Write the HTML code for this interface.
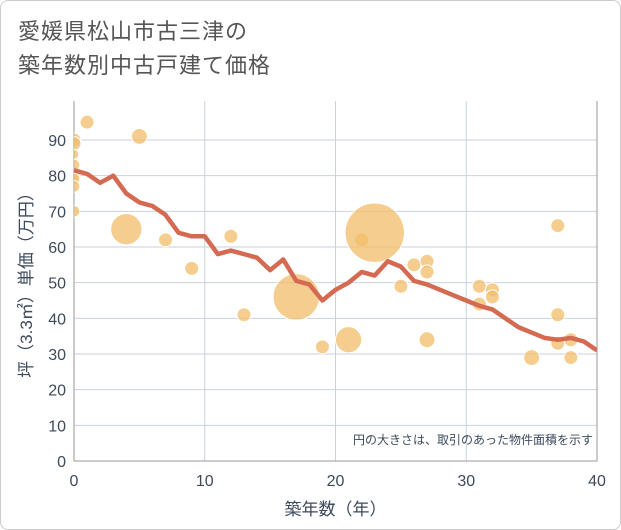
<!DOCTYPE html>
<html><head><meta charset="utf-8"><style>
body{margin:0;background:#fff;}
#wrap{width:619px;height:528px;border:1px solid #ccc;border-radius:8px;position:relative;overflow:hidden;background:#fff}
.title{position:absolute;left:17px;top:14px;font:22px "Liberation Sans","Noto Sans CJK JP",sans-serif;color:#555;line-height:34px;letter-spacing:1px}
svg{position:absolute;left:0;top:0}
text{font-family:"Liberation Sans","Noto Sans CJK JP",sans-serif}
</style></head><body>
<div id="wrap">
<div class="title">愛媛県松山市古三津の<br>築年数別中古戸建て価格</div>
<svg id="c" width="621" height="530"><defs><clipPath id="pc"><rect x="73" y="100" width="523" height="360"/></clipPath></defs></svg>
</div>
<script>
const lineYears=[0,1,2,3,4,5,6,7,8,9,10,11,12,13,14,15,16,17,18,19,20,21,22,23,24,25,26,27,28,29,30,31,32,33,34,35,36,37,38,39,40];
const lineValues=[81.5,80.5,78,80,75,72.5,71.5,69,64,63,63,58,59,58,57,53.5,56.5,50.5,49.5,45,48,50,53,52,56,54.5,50.5,49.5,48,46.5,45,43.5,42.5,40,37.5,36,34.5,34,34.5,33.5,31];
const bubbleX=[0,0,0,0,0,0,0,0,1,5,4,7,9,12,13,17,19,21,22,23,25,26,27,27,27,31,31,32,32,35,37,37,37,38,38];
const bubbleY=[90,89,86,83,80,79,77,70,95,91,65,62,54,63,41,46,32,34,62,64,49,55,56,53,34,49,44,48,46,29,66,41,33,34,29];
const bubbleSize=[1,1,0.5,0.7,0.7,0.7,0.7,0.7,1,1.3,5,1,1,1,1,11,1,3.5,1,18,1,1,1,1,1.3,1,1,1,1,1.3,1,1,1,1,1];
const xTicks=[0,10,20,30,40];
const yTicks=[0,10,20,30,40,50,60,70,80,90];
const NS="http://www.w3.org/2000/svg";
const svg=document.getElementById('c');
const X0=73,X1=596,Y0=460,Y90=139;
const xs=v=>X0+v*(X1-X0)/40;
const ys=v=>Y0-v*(Y0-Y90)/90;
function mk(t,a,p){const e=document.createElementNS(NS,t);for(const k in a)e.setAttribute(k,a[k]);(p||svg).appendChild(e);return e;}
for(const t of yTicks){
 const g=mk('line',{x1:X0,x2:X1,y1:ys(t),y2:ys(t),stroke:'#c8d2de','stroke-width':1});
 
 
 const l=mk('text',{x:X0-8,y:ys(t)+6,'text-anchor':'end','font-size':16,fill:'#3d4a5c'});l.textContent=t;
 
 
}
for(const t of xTicks){
 const g=mk('line',{x1:xs(t),x2:xs(t),y1:100,y2:Y0,stroke:'#c8d2de','stroke-width':1});
 
 
 const l=mk('text',{x:xs(t),y:Y0+25,'text-anchor':'middle','font-size':16,fill:'#3d4a5c'});l.textContent=t;
 
 
}
const ax=mk('path',{d:`M${X0} 100V${Y0}H${X1}V100`,fill:'none',stroke:'#999','stroke-width':1});


const pg=mk('g',{'clip-path':'url(#pc)'});


bubbleX.forEach((x,i)=>{
 const c=mk('circle',{cx:xs(x),cy:ys(bubbleY[i]),r:7*Math.sqrt(bubbleSize[i]),fill:'rgba(242,190,105,0.75)',stroke:'#fff','stroke-width':1},pg);
 
 
});
const ln=mk('polyline',{points:lineYears.map((x,i)=>xs(x)+','+ys(lineValues[i])).join(' '),fill:'none',stroke:'#d46a52','stroke-width':4.5,'stroke-linejoin':'round'},pg);


const xt=mk('text',{x:(X0+X1)/2,y:514,'text-anchor':'middle','font-size':17,fill:'#3d4a5c'});xt.textContent='築年数（年）';


const yt=mk('text',{x:0,y:0,'text-anchor':'middle','font-size':17,fill:'#3d4a5c',transform:`translate(31,${(100+Y0)/2}) rotate(-90)`});yt.textContent='坪（3.3㎡）単価（万円）';


const nt=mk('text',{x:592,y:443,'text-anchor':'end','font-size':12,fill:'#3d4a5c'});nt.textContent='円の大きさは、取引のあった物件面積を示す';


</script>
</body></html>
